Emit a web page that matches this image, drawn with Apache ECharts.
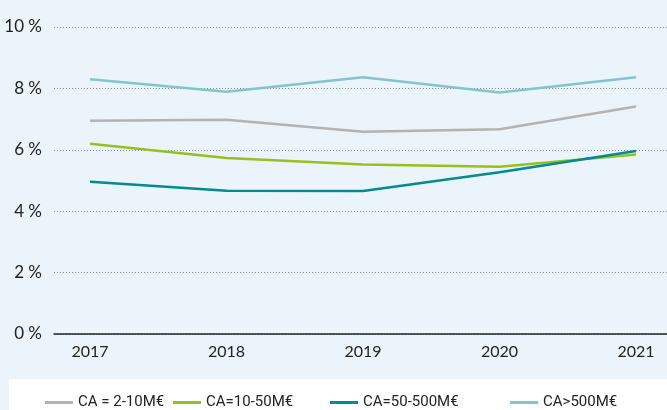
<!DOCTYPE html>
<html>
<head>
<meta charset="utf-8">
<script src="https://cdn.jsdelivr.net/npm/echarts@6/dist/echarts.min.js"></script>
<style>
    html, body { margin: 0; padding: 0; background: #ebf4fa; }
    #chart { width: 667px; height: 410px; }
</style>
</head>
<body>
<div id="chart"></div>
<script>
    const years = [2017, 2018, 2019, 2020, 2021]
    const seriesNames = ['CA = 2-10M€', 'CA=10-50M€', 'CA=50-500M€', 'CA>500M€']
    const ca2to10 = [6.95, 6.98, 6.59, 6.67, 7.41]
    const ca10to50 = [6.20, 5.73, 5.52, 5.45, 5.85]
    const ca50to500 = [4.96, 4.67, 4.66, 5.27, 5.96]
    const caOver500 = [8.30, 7.89, 8.36, 7.87, 8.36]
    const yTicks = [0, 2, 4, 6, 8, 10]

    const colors = ['#b3b3b3', '#95c11f', '#008a91', '#82c6cc']
    const values = [ca2to10, ca10to50, ca50to500, caOver500]
    const legendLeft = [40, 168, 325, 505]
    const font = 'Lato, "Noto Sans", sans-serif'

    const chart = echarts.init(document.getElementById('chart'))
    chart.setOption({
        backgroundColor: '#ebf4fa',
        animation: false,
        grid: { left: 54, right: 0, top: 27, bottom: 76 },
        graphic: [{
            type: 'rect',
            shape: { x: 9, y: 379, width: 658, height: 31 },
            style: { fill: '#ffffff' },
            z: -1
        }],
        legend: seriesNames.map((name, i) => ({
            data: [{ name, icon: 'rect' }],
            left: legendLeft[i],
            top: 390,
            itemWidth: 28,
            itemHeight: 3,
            itemGap: 0,
            textStyle: { fontFamily: 'Roboto, sans-serif', fontSize: 15, color: '#222' }
        })),
        xAxis: {
            type: 'value',
            min: 2016.736,
            max: 2021.227,
            splitLine: { show: false },
            axisTick: { show: false },
            axisLine: { show: true, lineStyle: { color: '#222', width: 1.5 } },
            axisLabel: {
                customValues: years,
                formatter: v => String(v),
                fontFamily: font,
                fontSize: 16,
                color: '#222',
                margin: 10
            }
        },
        yAxis: {
            type: 'value',
            min: 0,
            max: 10,
            interval: 2,
            axisLine: { show: false },
            axisTick: { show: false },
            axisLabel: {
                formatter: v => yTicks.includes(v) ? v + ' %' : '',
                fontFamily: font,
                fontSize: 17,
                color: '#222',
                margin: 12
            },
            splitLine: {
                show: true,
                lineStyle: { color: '#888', type: [1, 2], width: 1 }
            }
        },
        series: seriesNames.map((name, i) => ({
            name,
            type: 'line',
            data: years.map((y, j) => [y, values[i][j]]),
            symbol: 'none',
            lineStyle: { color: colors[i], width: 2.5 },
            itemStyle: { color: colors[i] }
        }))
    })
</script>
</body>
</html>
